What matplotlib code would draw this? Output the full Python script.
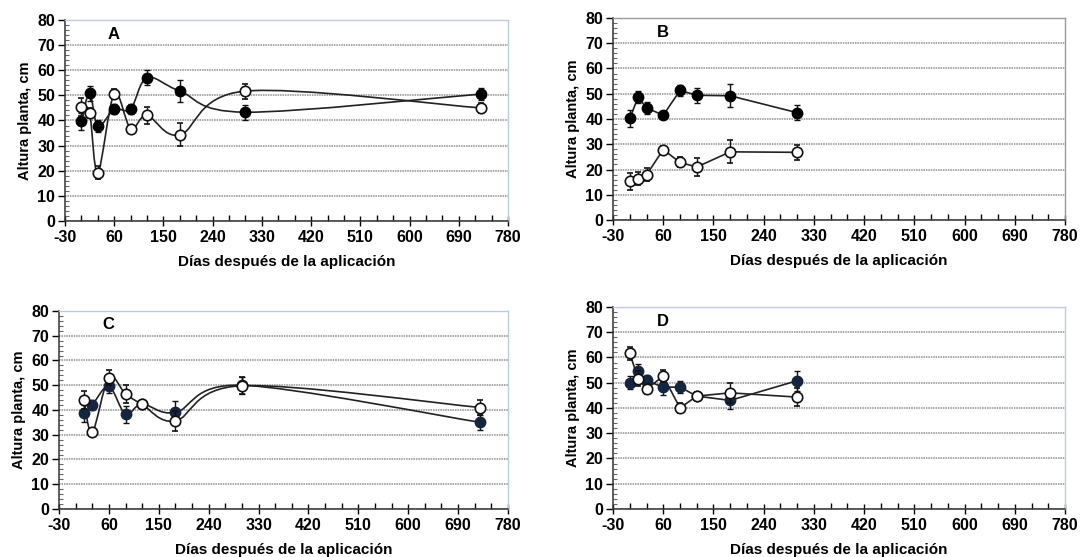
"""
Altura de planta vs días después de la aplicación, paneles A-D.
"""
import numpy as np
import matplotlib
matplotlib.use("Agg")
import matplotlib.pyplot as plt
from matplotlib.path import Path
from matplotlib.patches import PathPatch
from matplotlib.ticker import MultipleLocator

plt.rcParams["font.family"] = ["Liberation Sans", "DejaVu Sans"]
plt.rcParams["font.weight"] = "bold"
plt.rcParams["axes.unicode_minus"] = False

# ── Datos ───────────────────────────────────────────────────────────────
dias_full = [0, 15, 30, 60, 90, 120, 180, 300, 730]
dias_a300 = [0, 15, 30, 60, 90, 120, 180, 300]
dias_c = [15, 30, 60, 90, 120, 180, 300, 730]
x_ticks = [-30, 60, 150, 240, 330, 420, 510, 600, 690, 780]

a_llena = [39.6, 50.9, 37.8, 44.4, 44.6, 57.0, 51.7, 43.3, 50.5]
a_llena_err = [3.5, 3.0, 2.5, 2.0, 2.0, 3.0, 4.5, 3.0, 2.5]
a_vacia = [45.3, 42.9, 19.2, 50.6, 36.8, 42.0, 34.3, 51.7, 45.0]
a_vacia_err = [3.5, 2.0, 2.5, 2.0, 1.5, 3.5, 4.5, 3.0, 2.0]

b_llena = [40.2, 48.7, 44.4, 41.5, 51.3, 49.4, 49.2, 42.5]
b_llena_err = [3.5, 2.5, 2.5, 1.5, 2.0, 3.0, 4.5, 3.0]
b_vacia = [15.3, 16.4, 17.9, 27.9, 22.8, 21.0, 27.0, 26.8]
b_vacia_err = [3.5, 2.5, 2.5, 1.5, 2.0, 3.5, 4.5, 3.0]

c_llena = [38.7, 42.0, 49.5, 38.3, 42.4, 39.0, 50.0, 35.0]
c_llena_err = [3.5, 2.0, 2.5, 3.5, 1.5, 4.5, 3.5, 3.0]
c_vacia = [44.0, 31.0, 53.0, 46.5, 42.3, 35.6, 49.8, 41.0]
c_vacia_err = [3.5, 1.5, 3.0, 3.5, 1.5, 4.0, 3.5, 3.0]

d_llena = [50.0, 54.6, 50.9, 48.2, 48.3, 44.7, 43.0, 50.8]
d_llena_err = [2.5, 3.0, 2.0, 3.0, 2.5, 1.5, 3.5, 4.0]
d_vacia = [61.6, 51.6, 47.5, 52.6, 40.0, 44.7, 46.0, 44.3]
d_vacia_err = [2.5, 3.0, 2.0, 2.5, 2.0, 1.5, 4.0, 3.5]

paneles = [
    ("A", dias_full, a_llena, a_llena_err, a_vacia, a_vacia_err, True, "black", "#b8cce4"),
    ("B", dias_a300, b_llena, b_llena_err, b_vacia, b_vacia_err, False, "black", "#999999"),
    ("C", dias_c, c_llena, c_llena_err, c_vacia, c_vacia_err, True, "#142540", "#b8cce4"),
    ("D", dias_a300, d_llena, d_llena_err, d_vacia, d_vacia_err, False, "#142540", "#b8cce4"),
]

# posiciones [left, bottom, width, height] en fracción de figura
posiciones = [
    [0.0596, 0.6032, 0.4060, 0.3610],
    [0.5619, 0.6050, 0.4143, 0.3627],
    [0.0541, 0.0862, 0.4115, 0.3555],
    [0.5619, 0.0862, 0.4143, 0.3627],
]


def curva_suave(ax, x, y):
    """Línea suavizada tipo Excel (Bezier cúbica, Catmull-Rom) entre los puntos."""
    x = np.asarray(x, float)
    y = np.asarray(y, float)
    # trabajar en coordenadas de pantalla para que la curva no dependa de la escala
    pts = ax.transData.transform(np.column_stack([x, y]))
    verts = [pts[0]]
    codes = [Path.MOVETO]
    n = len(pts)
    for i in range(n - 1):
        p0 = pts[i - 1] if i > 0 else pts[i]
        p1 = pts[i]
        p2 = pts[i + 1]
        p3 = pts[i + 2] if i + 2 < n else pts[i + 1]
        c1 = p1 + (p2 - p0) / 6.0
        c2 = p2 - (p3 - p1) / 6.0
        verts += [c1, c2, p2]
        codes += [Path.CURVE4] * 3
    path = Path(verts, codes)
    patch = PathPatch(path, facecolor="none", edgecolor="#222222", lw=1.2,
                      transform=None, zorder=2)
    ax.add_artist(patch)


fig = plt.figure(figsize=(10.91, 5.57), dpi=100)

for (letra, dias, llena, llena_err, vacia, vacia_err, suave, col_llena, col_borde), pos in zip(paneles, posiciones):
    ax = fig.add_axes(pos)
    ax.set_xlim(-30, 780)
    ax.set_ylim(0, 80)
    ax.set_xticks(x_ticks)
    ax.set_xticks(range(-30, 781, 30), minor=True)
    ax.yaxis.set_major_locator(MultipleLocator(10))
    ax.yaxis.set_minor_locator(MultipleLocator(2))
    ax.tick_params(axis="x", which="major", direction="inout", length=7, width=1, labelsize=11.5, pad=3)
    ax.tick_params(axis="x", which="minor", direction="in", length=4, width=1)
    ax.tick_params(axis="y", which="major", direction="out", length=5, width=1, labelsize=11.5, pad=2)
    ax.tick_params(axis="y", which="minor", direction="in", length=3, width=0.8, color="#666666")
    for lbl in ax.get_xticklabels() + ax.get_yticklabels():
        lbl.set_fontweight("bold")
    ax.grid(axis="y", which="major", color="#8f8f8f", lw=1.1, ls=(0, (1, 0.6)))
    ax.set_axisbelow(True)
    for lado in ["left", "bottom"]:
        ax.spines[lado].set_color("#333333")
        ax.spines[lado].set_linewidth(1.1)
    for lado in ["top", "right"]:
        ax.spines[lado].set_color(col_borde)
        ax.spines[lado].set_linewidth(1.0)

    fig.canvas.draw()
    if suave:
        curva_suave(ax, dias, llena)
        curva_suave(ax, dias, vacia)
    else:
        ax.plot(dias, llena, color="#222222", lw=1.2, zorder=2)
        ax.plot(dias, vacia, color="#222222", lw=1.2, zorder=2)

    ax.errorbar(dias, llena, yerr=llena_err, fmt="o", ms=7.5, mfc=col_llena, mec=col_llena,
                ecolor="#111111", elinewidth=1, capsize=2.5, capthick=1, zorder=3)
    ax.errorbar(dias, vacia, yerr=vacia_err, fmt="o", ms=7.5, mfc="white", mec="#111111",
                mew=1.2, ecolor="#111111", elinewidth=1, capsize=2.5, capthick=1, zorder=4)

    ax.text(0.11, 0.93, letra, transform=ax.transAxes, fontsize=12, fontweight="bold",
            ha="center", va="center")
    ax.set_ylabel("Altura planta, cm", fontsize=10.5, fontweight="bold", labelpad=4)
    ax.set_xlabel("Días después de la aplicación", fontsize=11, fontweight="bold", labelpad=7)

fig.savefig("out.png", dpi=100)
